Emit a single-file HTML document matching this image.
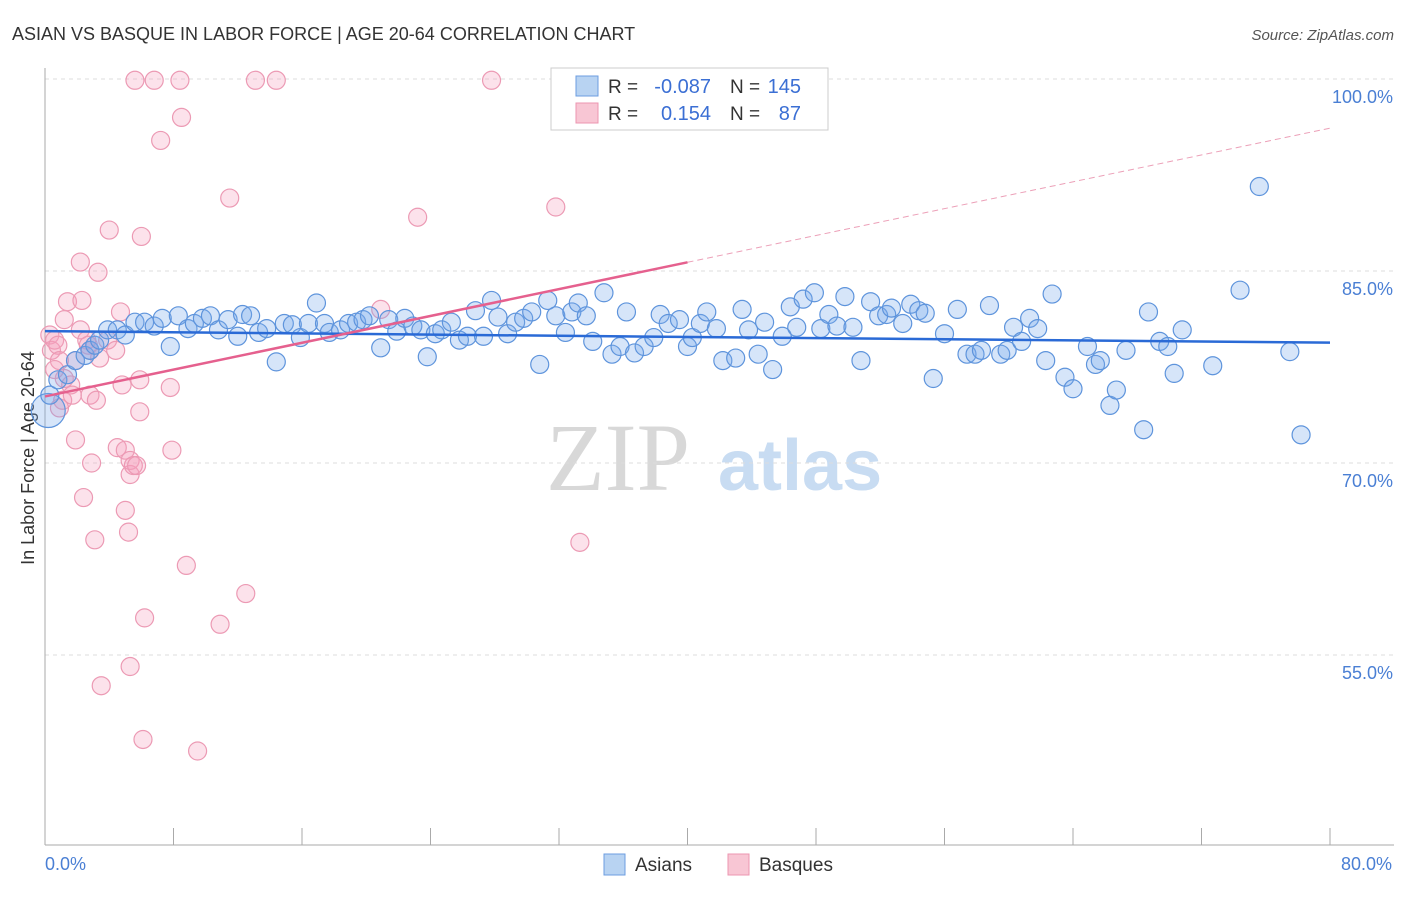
<!DOCTYPE html>
<html><head><meta charset="utf-8"><style>
body{margin:0;background:#fff;font-family:"Liberation Sans",sans-serif;}
</style></head><body>
<svg id="chart" width="1406" height="892" xmlns="http://www.w3.org/2000/svg" font-family="Liberation Sans, sans-serif">
<text x="12" y="40" font-size="18" fill="#333">ASIAN VS BASQUE IN LABOR FORCE | AGE 20-64 CORRELATION CHART</text>
<text x="1394" y="40" font-size="15" fill="#555" text-anchor="end" font-style="italic">Source: ZipAtlas.com</text>
<text transform="translate(34,458) rotate(-90)" font-size="18" fill="#333" text-anchor="middle">In Labor Force | Age 20-64</text>
<g>
<text x="690" y="490" font-size="96" fill="#d8d8d8" text-anchor="end" font-family="Liberation Serif, serif">ZIP</text>
<text x="718" y="490" font-size="72" fill="#c8dcf2" font-weight="bold">atlas</text>
</g>
<g id="grid"></g>
<g id="axes"></g>
<g id="pts"></g>
<g id="trend"></g>
<g>
<rect x="551" y="68" width="277" height="62" fill="#fff" stroke="#ccc"/>
<rect x="576" y="76" width="22" height="20" fill="#b8d3f2" stroke="#6c9ee0"/>
<rect x="576" y="103" width="22" height="20" fill="#f8c6d4" stroke="#ec96b0"/>
<text x="608" y="93" font-size="19" fill="#333">R =</text>
<text x="711" y="93" font-size="20" fill="#3b6fd4" text-anchor="end">-0.087</text>
<text x="730" y="93" font-size="19" fill="#333">N =</text>
<text x="801" y="93" font-size="20" fill="#3b6fd4" text-anchor="end">145</text>
<text x="608" y="120" font-size="19" fill="#333">R =</text>
<text x="711" y="120" font-size="20" fill="#3b6fd4" text-anchor="end">0.154</text>
<text x="730" y="120" font-size="19" fill="#333">N =</text>
<text x="801" y="120" font-size="20" fill="#3b6fd4" text-anchor="end">87</text>
</g>
<g>
<rect x="604" y="854" width="21" height="21" fill="#b8d3f2" stroke="#6c9ee0"/>
<text x="635" y="871" font-size="19" fill="#333">Asians</text>
<rect x="728" y="854" width="21" height="21" fill="#f8c6d4" stroke="#ec96b0"/>
<text x="759" y="871" font-size="19" fill="#333">Basques</text>
</g>
</svg>
<script>
const yTicks=[55,70,85,100];
const yTickLabels=["55.0%","70.0%","85.0%","100.0%"];
const xEndLabels=["0.0%","80.0%"];
const asianX=[0.2,0.3,0.8,1.4,1.9,2.5,2.8,3.1,3.4,3.9,4.5,5.0,5.6,6.2,6.8,7.3,7.8,8.3,8.9,9.3,9.8,10.3,10.8,11.4,12.0,12.3,12.8,13.3,13.8,14.4,14.9,15.4,15.9,16.4,16.9,17.4,17.7,18.4,18.9,19.4,19.8,20.2,20.9,21.4,21.9,22.4,22.9,23.4,23.8,24.3,24.7,25.3,25.8,26.3,26.8,27.3,27.8,28.2,28.8,29.3,29.8,30.3,30.8,31.3,31.8,32.4,32.8,33.2,33.7,34.1,34.8,35.3,35.8,36.2,36.7,37.3,37.9,38.3,38.8,39.5,40.0,40.3,40.8,41.2,41.8,42.2,43.0,43.4,43.8,44.4,44.8,45.3,45.9,46.4,46.8,47.2,47.9,48.3,48.8,49.3,49.8,50.3,50.8,51.4,51.9,52.4,52.7,53.4,53.9,54.4,54.8,55.3,56.0,56.8,57.4,57.9,58.3,58.8,59.5,59.9,60.3,60.8,61.3,61.8,62.3,62.7,63.5,64.0,64.9,65.4,65.7,66.3,66.7,67.3,68.4,68.7,69.4,69.9,70.3,70.8,72.7,74.4,75.6,77.5,78.2];
const asianY=[74.1,75.3,76.5,76.9,78.0,78.4,78.8,79.2,79.6,80.4,80.4,80.0,81.0,81.0,80.7,81.3,79.1,81.5,80.5,80.9,81.3,81.5,80.4,81.2,79.9,81.6,81.5,80.2,80.5,77.9,80.9,80.8,79.8,80.9,82.5,80.9,80.2,80.4,80.9,81.0,81.2,81.5,79.0,81.2,80.3,81.3,80.7,80.4,78.3,80.1,80.4,81.0,79.6,79.9,81.9,79.9,82.7,81.4,80.1,81.0,81.3,81.8,77.7,82.7,81.5,80.2,81.8,82.5,81.5,79.5,83.3,78.5,79.1,81.8,78.6,79.1,79.8,81.6,80.9,81.2,79.1,79.8,80.9,81.8,80.5,78.0,78.2,82.0,80.4,78.5,81.0,77.3,79.9,82.2,80.6,82.8,83.3,80.5,81.6,80.7,83.0,80.6,78.0,82.6,81.5,81.6,82.1,80.9,82.4,81.9,81.7,76.6,80.1,82.0,78.5,78.5,78.8,82.3,78.5,78.8,80.6,79.5,81.3,80.5,78.0,83.2,76.7,75.8,79.1,77.7,78.0,74.5,75.7,78.8,72.6,81.8,79.5,79.1,77.0,80.4,77.6,83.5,91.6,78.7,72.2];
const basqueX=[0.3,0.4,0.6,0.8,0.9,1.1,1.2,1.2,1.4,1.6,1.7,1.9,1.9,2.2,2.3,2.4,2.6,2.7,2.8,2.8,2.9,3.1,3.2,2.2,3.3,3.4,3.5,3.9,4.0,4.4,4.5,4.7,4.8,5.0,5.0,5.2,5.3,5.3,5.5,5.6,5.7,5.9,5.9,6.0,6.1,6.2,5.3,6.8,7.2,7.8,7.9,8.4,8.5,8.8,9.5,10.9,11.5,12.5,13.1,14.4,20.9,23.2,27.8,31.8,33.3,0.6,0.9];
const basqueY=[80.0,78.8,79.6,79.2,78.0,74.9,76.6,81.2,82.6,76.1,75.3,78.0,71.8,80.4,82.7,67.3,79.6,79.2,78.8,75.3,70.0,64.0,74.9,85.7,84.9,78.2,52.6,79.6,88.2,78.8,71.2,81.8,76.1,71.0,66.3,64.6,69.1,70.2,69.8,99.9,69.8,76.5,74.0,87.7,48.4,57.9,54.1,99.9,95.2,75.9,71.0,99.9,97.0,62.0,47.5,57.4,90.7,59.8,99.9,99.9,82.0,89.2,99.9,90.0,63.8,77.3,74.3];
const asianTrend=[80.3,79.4];
const basqueTrend=[75.2,0.262];
const NS="http://www.w3.org/2000/svg";
const X0=45,X1=1330,Y100=79,PX15=192;
const sx=v=>X0+(v/80)*(X1-X0);
const sy=v=>Y100+(100-v)*PX15/15;
function mk(tag,attrs,parent){const e=document.createElementNS(NS,tag);for(const k in attrs)e.setAttribute(k,attrs[k]);parent.appendChild(e);return e;}
const grid=document.getElementById('grid'),axes=document.getElementById('axes'),pts=document.getElementById('pts'),trend=document.getElementById('trend');
yTicks.forEach((t,i)=>{
 const l=mk('line',{x1:X0,x2:1394,y1:sy(t),y2:sy(t),stroke:'#ddd','stroke-dasharray':'4,4'},grid);
 
 
 const tx=mk('text',{x:1393,y:sy(t)+24,'font-size':18,fill:'#4a7fd4','text-anchor':'end'},axes);
 tx.textContent=yTickLabels[i];
 
 
});
const ya=mk('line',{x1:X0,x2:X0,y1:68,y2:845,stroke:'#aaa'},axes);


const xa=mk('line',{x1:X0,x2:1394,y1:845,y2:845,stroke:'#aaa'},axes);


for(let i=0;i<=10;i++){const v=i*8;const t=mk('line',{x1:sx(v),x2:sx(v),y1:828,y2:845,stroke:'#aaa'},axes);
 
 }
[[0,'start'],[80,'end']].forEach((p,i)=>{const t=mk('text',{x:sx(p[0])+(i?62:0),y:870,'font-size':18,fill:'#4a7fd4','text-anchor':p[1]},axes);t.textContent=xEndLabels[i];
 
 });
basqueX.forEach((x,i)=>{const c=mk('circle',{cx:sx(x),cy:sy(basqueY[i]),r:9,fill:'rgba(244,160,188,0.3)',stroke:'#ec9ab4','stroke-width':1.2},pts);
 
 });
asianX.forEach((x,i)=>{const c=mk('circle',{cx:sx(x),cy:sy(asianY[i]),r:i===0?17:9,fill:'rgba(120,170,235,0.3)',stroke:'#5e94dc','stroke-width':1.2},pts);
 
 });
const bt=mk('line',{x1:sx(0),y1:sy(asianTrend[0]),x2:sx(80),y2:sy(asianTrend[1]),stroke:'#2a6ad6','stroke-width':2.5},trend);


const pb=x=>basqueTrend[0]+basqueTrend[1]*x;
const pt1=mk('line',{x1:sx(0),y1:sy(pb(0)),x2:sx(40),y2:sy(pb(40)),stroke:'#e5608e','stroke-width':2.5},trend);


const pt2=mk('line',{x1:sx(40),y1:sy(pb(40)),x2:sx(80),y2:sy(pb(80)),stroke:'#eca0b8','stroke-width':1,'stroke-dasharray':'6,4'},trend);


</script>
</body></html>
